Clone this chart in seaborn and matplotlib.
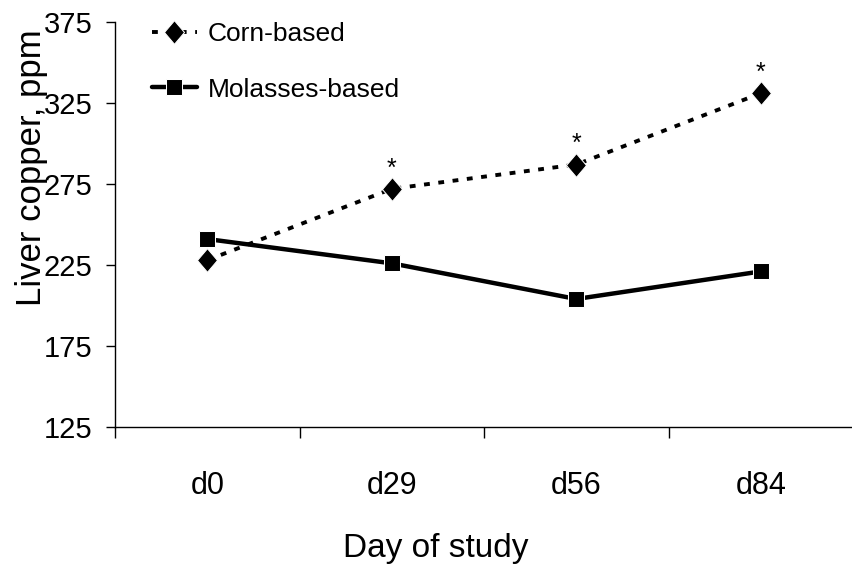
import numpy as np
import pandas as pd
import matplotlib
matplotlib.use("Agg")
import matplotlib.pyplot as plt
from matplotlib.path import Path
import seaborn as sns

days = ["d0", "d29", "d56", "d84"]
corn = [228, 272, 287, 331]
molasses = [241, 226, 204, 221]
signif = [False, True, True, True]
yticks = [125, 175, 225, 275, 325, 375]

sns.set_style("white")
plt.rcParams['font.family'] = ['Liberation Sans', 'DejaVu Sans']
plt.rcParams.update({"text.color": "black", "axes.labelcolor": "black",
                     "xtick.color": "black", "ytick.color": "black"})

df = pd.DataFrame({
    "day": days * 2,
    "copper": corn + molasses,
    "diet": ["Corn-based"] * 4 + ["Molasses-based"] * 4,
})

# diamond a bit taller than wide, like the original
diamond = Path([(0, 1), (0.85, 0), (0, -1), (-0.85, 0), (0, 1)],
               [Path.MOVETO, Path.LINETO, Path.LINETO, Path.LINETO, Path.CLOSEPOLY])

fig = plt.figure(figsize=(8.53, 5.69), dpi=100)
ax = fig.add_axes([0.135, 0.2496, 0.865, 0.7118])

sns.lineplot(data=df[df.diet == "Corn-based"], x="day", y="copper", ax=ax,
             color="black", marker=diamond, markersize=17, linewidth=2.8,
             label="Corn-based")
ax.lines[-1].set_dashes((1.5, 2.2))
sns.lineplot(data=df[df.diet == "Molasses-based"], x="day", y="copper", ax=ax,
             color="black", marker="s", markersize=11, linewidth=3.2,
             label="Molasses-based")

for i, s in enumerate(signif):
    if s:
        ax.annotate("*", (i, corn[i]), xytext=(0, 6), textcoords="offset points",
                    ha="center", va="bottom", fontsize=18)

ax.set_xlim(-0.5, 3.5)
ax.set_ylim(125, 375)
ax.set_yticks(yticks)
ax.set_yticklabels([str(v) for v in yticks], fontsize=21)
ax.set_xticks(np.arange(-0.5, 4, 1.0))
ax.set_xticklabels([])
ax.set_xticks(range(len(days)), minor=True)
ax.set_xticklabels(days, minor=True, fontsize=22)
ax.tick_params(axis="x", which="major", bottom=True, direction="out", length=8, width=1)
ax.tick_params(axis="x", which="minor", bottom=True, length=0, pad=32)
ax.tick_params(axis="y", left=True, direction="out", length=6.5, width=1, pad=10)

ax.set_xlabel("Day of study", fontsize=24)
ax.xaxis.set_label_coords(0.435, -0.262)
ax.xaxis.label.set_va("top")
ax.set_ylabel("Liver copper, ppm", fontsize=25)
ax.yaxis.set_label_coords(-0.113, 0.64)
ax.yaxis.label.set_va("center")

for side in ["top", "right"]:
    ax.spines[side].set_visible(False)
for side in ["left", "bottom"]:
    ax.spines[side].set_color("black")
    ax.spines[side].set_linewidth(1)

leg = ax.legend(loc="upper left", bbox_to_anchor=(0.05, 1.0), frameon=False,
                fontsize=19, handlelength=1.7, labelspacing=1.2, handletextpad=0.4,
                borderpad=0, borderaxespad=0)

fig.savefig("out.png", dpi=100)
